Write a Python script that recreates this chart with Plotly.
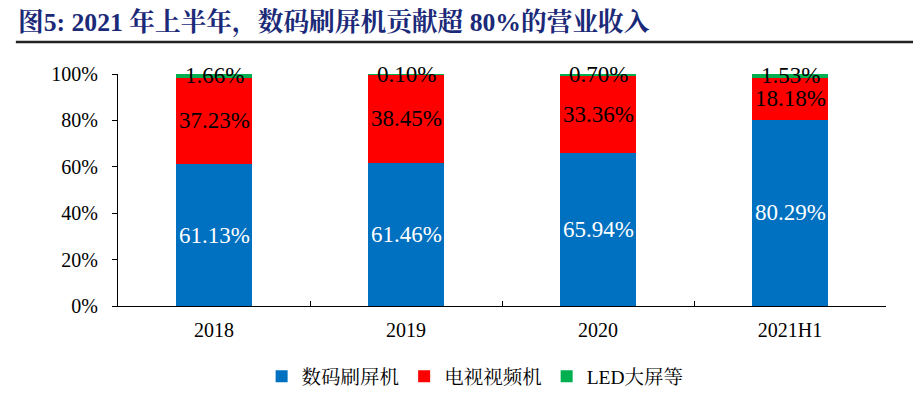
import plotly.graph_objects as go

categories = ["2018", "2019", "2020", "2021H1"]
digital = [61.13, 61.46, 65.94, 80.29]
tv = [37.23, 38.45, 33.36, 18.18]
led = [1.66, 0.10, 0.70, 1.53]
series_names = ["数码刷屏机", "电视视频机", "LED大屏等"]
colors = ["#0070C0", "#FF0000", "#00B050"]
y_ticks = [0, 20, 40, 60, 80, 100]
title = "图5: 2021 年上半年，数码刷屏机贡献超 80%的营业收入"

SERIF = "'Liberation Serif', 'Noto Serif CJK SC', 'Noto Sans CJK SC', serif"

fig = go.Figure()
for name, vals, c in zip(series_names, [digital, tv, led], colors):
    fig.add_trace(go.Bar(
        x=categories, y=vals, name=name, marker=dict(color=c, line=dict(width=0)),
        width=0.4,
    ))

annotations = []
for i, cat in enumerate(categories):
    base = 0
    for vals, fc in [(digital, "white"), (tv, "black"), (led, "black")]:
        v = vals[i]
        mid = base + v / 2
        annotations.append(dict(
            x=i, y=mid, xref="x", yref="y", text=f"{v:.2f}%", showarrow=False,
            font=dict(family=SERIF, size=23, color=fc),
        ))
        base += v

annotations.append(dict(
    x=-0.133, y=1.224, xref="paper", yref="paper", text=f"<b>{title}</b>",
    showarrow=False, xanchor="left", yanchor="middle",
    font=dict(family=SERIF, size=25.7, color="#1B2A78"),
))

# page body adds an 8px offset; compensate in figure size / margins
fig.update_layout(
    barmode="stack",
    width=913, height=386,
    margin=dict(l=110, r=35, t=66, b=88, autoexpand=False),
    paper_bgcolor="white", plot_bgcolor="white",
    showlegend=True,
    legend=dict(orientation="h", x=0.465, xanchor="center", y=-0.22, yanchor="top",
                font=dict(family=SERIF, size=19.5, color="black"),
                itemwidth=30, traceorder="normal"),
    annotations=annotations,
    shapes=[dict(type="line", xref="paper", yref="paper", x0=-0.133, x1=1.05,
                 y0=1.138, y1=1.138, line=dict(color="#222222", width=2.5))],
)
fig.update_xaxes(
    type="category", range=[-0.5, 3.5],
    showline=True, linecolor="black", linewidth=1, tickson="boundaries",
    ticks="inside", ticklen=5, tickcolor="black", tickangle=0,
    tickfont=dict(family=SERIF, size=20, color="black"), showgrid=False,
    ticklabelstandoff=6,
)
fig.update_yaxes(
    range=[0, 100], tickvals=y_ticks, ticktext=[f"{t}%" for t in y_ticks],
    showline=True, linecolor="black", linewidth=1, ticks="outside", ticklen=5,
    tickcolor="black", tickfont=dict(family=SERIF, size=20, color="black"),
    showgrid=False, zeroline=False, ticklabelstandoff=10,
)

fig.write_html("out.html")
